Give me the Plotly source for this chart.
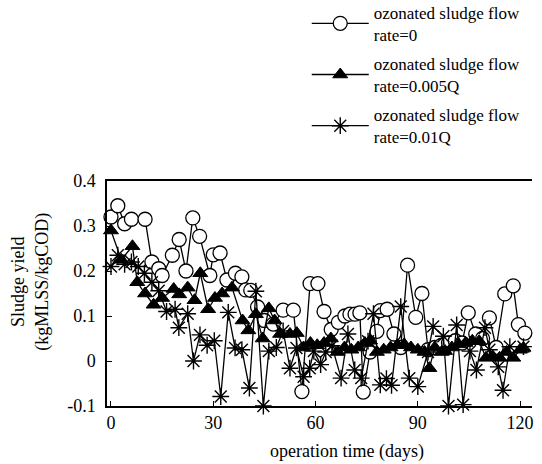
import plotly.graph_objects as go

# ---- data ----
days_a = [0, 2, 4, 6, 10, 12, 14, 15, 18, 20, 22, 24, 26, 29, 30, 32, 34, 36.5, 38.4, 39.5,
          41, 43, 45, 47.6, 50.5, 53.5, 56, 58.4, 60.7, 62.5, 64.6, 66.7, 68.6, 70.1, 71.6, 73,
          74, 76, 78, 79, 81, 83, 85, 87, 89.4, 91.2, 93, 95, 97, 99, 101, 103, 104.8, 107,
          109, 111, 113, 115.5, 118, 119.5, 121.4]
yield_a = [0.32, 0.345, 0.305, 0.315, 0.315, 0.22, 0.205, 0.19, 0.235, 0.27, 0.2, 0.318, 0.277,
           0.19, 0.236, 0.24, 0.18, 0.195, 0.187, 0.158, 0.157, 0.12, 0.09, 0.082, 0.113, 0.113,
           -0.068, 0.172, 0.172, 0.11, 0.07, 0.086, 0.1, 0.104, 0.104, 0.107, -0.069, 0.02, 0.066,
           0.112, 0.115, 0.06, 0.03, 0.213, 0.097, 0.15, 0.025, 0.03, 0.035, 0.04, 0.045, 0.04,
           0.107, 0.06, 0.05, 0.096, 0.03, 0.149, 0.167, 0.081, 0.062]

days_b = [0, 3, 6.3, 7.7, 10, 12.5, 15, 18.4, 20, 22.5, 24.5, 26.2, 28.5, 30.5, 32.6, 35.5,
          38.6, 40.3, 42.5, 44.5, 46.3, 48, 49.6, 52.5, 54.5, 56.5, 58.5, 60.5, 62.5, 64.5, 66.5,
          68.5, 70.5, 72.5, 74.5, 76, 78, 80, 82, 84, 86, 88, 90, 92, 93.4, 95, 97, 98, 100, 102,
          104, 106, 108, 110, 112, 114, 116, 118, 120, 121]
yield_b = [0.29, 0.225, 0.255, 0.175, 0.15, 0.125, 0.14, 0.16, 0.148, 0.163, 0.135, 0.195, 0.115,
           0.14, 0.15, 0.163, 0.09, 0.068, 0.104, 0.05, 0.117, 0.09, 0.06, 0.06, 0.062, 0.03, 0.04,
           0.035, 0.04, 0.05, 0.02, 0.03, 0.025, 0.03, 0.04, 0.045, 0.02, 0.025, 0.03, 0.035, 0.037,
           0.03, 0.025, 0.02, -0.016, 0.03, 0.02, 0.022, 0.03, 0.037, 0.04, 0.045, 0.044, 0.007,
           0.01, 0.007, 0.02, 0.007, 0.025, 0.029]

days_c = [0, 2, 4, 6, 8, 9.8, 12, 14, 16.3, 18.8, 19.9, 22.5, 24.2, 26.1, 28.2, 30.3, 32.2, 34.4,
          36.4, 38.4, 40.6, 42.5, 44.7, 46.3, 48.5, 50.5, 52.5, 54.4, 56.5, 58.3, 59.5, 61.5, 63,
          64.8, 67.5, 69.5, 71.5, 73.4, 75.4, 77, 79, 80.8, 82.3, 85, 87.5, 90, 93, 94.5, 97.5,
          99, 101.4, 103.3, 105.3, 107.2, 109.7, 111, 113.6, 115, 117, 121]
yield_c = [0.21, 0.235, 0.215, 0.22, 0.21, 0.195, 0.175, 0.156, 0.11, 0.115, 0.074, 0.105, 0.0,
           0.058, 0.035, 0.045, -0.079, 0.108, 0.029, 0.025, -0.06, 0.155, -0.1, 0.022, 0.03, 0.067,
           -0.016, 0.029, -0.035, -0.016, 0.022, -0.008, 0.02, 0.034, -0.038, 0.06, -0.02, -0.038,
           0.044, 0.105, -0.053, -0.039, -0.054, 0.121, -0.038, -0.057, 0.02, 0.077, 0.055, -0.1,
           0.08, -0.097, 0.022, -0.02, 0.074, 0.025, -0.013, -0.065, 0.032, 0.032]

names = ["ozonated sludge flow<br>rate=0",
         "ozonated sludge flow<br>rate=0.005Q",
         "ozonated sludge flow<br>rate=0.01Q"]

x_ticks = [0, 30, 60, 90, 120]
y_ticks = [-0.1, 0, 0.1, 0.2, 0.3, 0.4]
y_tick_text = ["-0.1", "0", "0.1", "0.2", "0.3", "0.4"]

FONT = "Liberation Serif"

fig = go.Figure()
fig.add_trace(go.Scatter(
    x=days_a, y=yield_a, name=names[0], mode="lines+markers", legendgroup="a",
    line=dict(color="black", width=1.3),
    marker=dict(symbol="circle", size=14, color="white", line=dict(color="black", width=1.3)),
    cliponaxis=False))
fig.add_trace(go.Scatter(
    x=days_b, y=yield_b, name=names[1], mode="lines+markers", legendgroup="b",
    line=dict(color="black", width=1.3),
    marker=dict(symbol="triangle-up", size=13, color="black", line=dict(color="black", width=1)),
    cliponaxis=False))
fig.add_trace(go.Scatter(
    x=days_c, y=yield_c, name=names[2], mode="lines+markers", legendgroup="c",
    line=dict(color="black", width=1.3),
    marker=dict(symbol="asterisk-open", size=14, color="black", line=dict(color="black", width=1.4)),
    cliponaxis=False))

fig.update_layout(
    width=542, height=464,
    margin=dict(l=107, r=10, t=181, b=58, autoexpand=False),
    paper_bgcolor="white", plot_bgcolor="white",
    font=dict(family=FONT, size=18, color="black"),
    showlegend=True,
    legend=dict(x=0.47, y=1.828, xanchor="left", yanchor="top",
                font=dict(family=FONT, size=17, color="black"),
                bgcolor="rgba(0,0,0,0)", traceorder="grouped", tracegroupgap=4,
                itemwidth=57),
    xaxis=dict(range=[-1.17, 123.5], tickvals=x_ticks, ticks="inside", ticklen=5,
               tickwidth=1.3, tickcolor="black", showline=True, linecolor="black",
               linewidth=1.5, mirror=True, showgrid=False, zeroline=False,
               tickfont=dict(family=FONT, size=18)),
    yaxis=dict(range=[-0.1, 0.4], tickvals=y_ticks, ticktext=y_tick_text,
               ticks="inside", ticklen=5, tickwidth=1.3, tickcolor="black",
               showline=True, linecolor="black", linewidth=1.5, mirror=False,
               showgrid=False, zeroline=False, ticklabelstandoff=6,
               tickfont=dict(family=FONT, size=18)),
    annotations=[
        dict(text="Sludge yield<br>(kgMLSS/kgCOD)", xref="paper", yref="paper",
             x=-0.18, y=0.55, xanchor="center", yanchor="middle", textangle=-90,
             showarrow=False, font=dict(family=FONT, size=18)),
        dict(text="operation time (days)", xref="paper", yref="paper",
             x=0.565, y=-0.204, xanchor="center", yanchor="middle",
             showarrow=False, font=dict(family=FONT, size=18)),
    ],
)

fig.write_html("out.html")
